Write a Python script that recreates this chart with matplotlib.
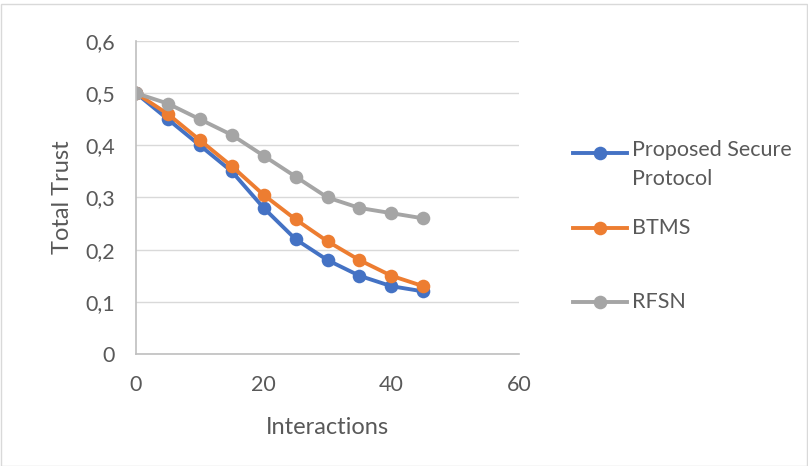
import matplotlib.pyplot as plt
from matplotlib.lines import Line2D
from matplotlib.patches import Rectangle
from matplotlib.ticker import FuncFormatter

interactions = [0, 5, 10, 15, 20, 25, 30, 35, 40, 45]
proposed = [0.50, 0.45, 0.40, 0.35, 0.28, 0.22, 0.18, 0.15, 0.13, 0.12]
btms = [0.50, 0.46, 0.41, 0.36, 0.305, 0.258, 0.216, 0.18, 0.15, 0.13]
rfsn = [0.50, 0.48, 0.45, 0.42, 0.38, 0.34, 0.30, 0.28, 0.27, 0.26]

series_names = ['Proposed Secure\nProtocol', 'BTMS', 'RFSN']
series_colors = ['#4472C4', '#ED7D31', '#A5A5A5']
x_ticks = [0, 20, 40, 60]
y_ticks = [0, 0.1, 0.2, 0.3, 0.4, 0.5, 0.6]

plt.rcParams['font.family'] = ['Lato', 'DejaVu Sans']
text_col = '#595959'

W, H = 808, 466
fig = plt.figure(figsize=(W / 100, H / 100), dpi=100)
ax = fig.add_axes([136 / W, 1 - 354 / H, (519 - 136) / W, (354 - 41) / H])

for vals, col in zip([proposed, btms, rfsn], series_colors):
    ax.plot(interactions, vals, color=col, lw=2.8, marker='o', ms=9.8,
            markeredgewidth=0)

ax.set_xlim(0, 60)
ax.set_ylim(0, 0.6)
ax.set_xticks(x_ticks)
ax.set_yticks(y_ticks)
ax.yaxis.set_major_formatter(FuncFormatter(
    lambda v, p: '0' if v == 0 else f'{v:.1f}'.replace('.', ',')))
ax.grid(axis='y', color='#d9d9d9', lw=1)
ax.set_axisbelow(True)
for s in ['top', 'right']:
    ax.spines[s].set_visible(False)
for s in ['left', 'bottom']:
    ax.spines[s].set_color('#bfbfbf')
    ax.spines[s].set_linewidth(1.2)
ax.tick_params(length=0, labelsize=15.5, colors=text_col)
ax.tick_params(axis='x', pad=15)
ax.tick_params(axis='y', pad=15)
ax.set_xlabel('Interactions', fontsize=17, color=text_col, labelpad=16)
ax.set_ylabel('Total Trust', fontsize=17, color=text_col, labelpad=9)

# legend drawn by hand to match the layout
leg_y = [153, 228, 302]
for name, col, yy in zip(series_names, series_colors, leg_y):
    fy = 1 - yy / H
    fig.add_artist(Line2D([573 / W, 627 / W], [fy, fy], color=col, lw=2.8,
                          transform=fig.transFigure))
    fig.add_artist(Line2D([600 / W], [fy], color=col, marker='o', ms=9.8,
                          markeredgewidth=0, transform=fig.transFigure))
    if '\n' in name:
        fig.text(632 / W, fy + 13 / H, name, fontsize=15.5, color=text_col,
                 va='top', linespacing=1.55)
    else:
        fig.text(632 / W, fy, name, fontsize=15.5, color=text_col, va='center')

fig.add_artist(Rectangle((0.5 / W, 0.5 / H), (W - 2) / W, (H - 4) / H,
                         fill=False, edgecolor='#d9d9d9', lw=1,
                         transform=fig.transFigure))

fig.savefig('out.png', dpi=100)
